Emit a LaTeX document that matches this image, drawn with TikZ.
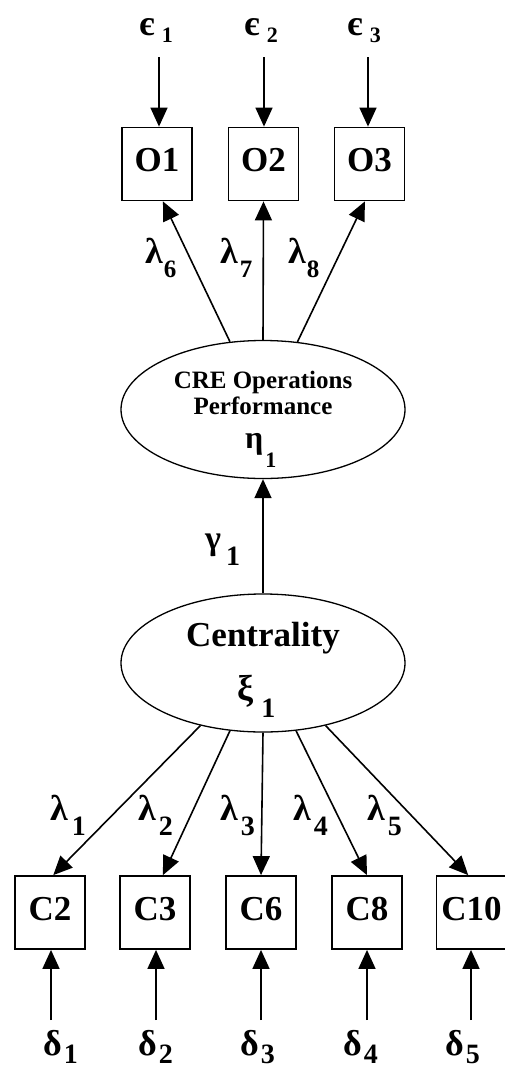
\documentclass[tikz,border=0pt]{standalone}
\usepackage{fontspec}
\setmainfont{Liberation Serif}
\usetikzlibrary{arrows.meta,shapes.geometric}

% Greek symbol with a lowered index: size, letter, gap, drop, index size, index
\newcommand\glab[6]{{\fontsize{#1}{#1}\selectfont #2}\hspace{#3}\raisebox{-#4}{\fontsize{#5}{#5}\selectfont #6}}

\begin{document}
\begin{tikzpicture}[x=1pt,y=-1pt,
  obsbox/.style={draw, line width=1.8pt, minimum width=70pt, minimum height=73pt,
    inner sep=0pt, text height=25pt, text depth=10pt,
    font=\fontsize{35}{35}\selectfont\bfseries},
  latent/.style={draw, ellipse, line width=1.3pt, minimum width=284pt,
    minimum height=138pt, inner sep=0pt},
  path/.style={line width=1.6pt, -{Triangle[length=19pt,width=17pt]}},
  sym/.style={inner sep=0pt, anchor=base west, font=\bfseries},
  ovaltext/.style={inner sep=0pt, anchor=base, font=\fontsize{25}{25}\selectfont\bfseries}]
\useasboundingbox (0,0) rectangle (505,1068);

% measurement errors of the outcome indicators
\node[sym] (e1) at (139,35) {\glab{36pt}{є}{7pt}{7pt}{22pt}{1}};
\node[sym] (e2) at (244,35) {\glab{36pt}{є}{7pt}{7pt}{22pt}{2}};
\node[sym] (e3) at (347,35) {\glab{36pt}{є}{7pt}{7pt}{22pt}{3}};
\coordinate (e1s) at (159,57);
\coordinate (e2s) at (264,57);
\coordinate (e3s) at (368,57);

% outcome indicators
\node[obsbox] (O1) at (157,164) {O1};
\node[obsbox] (O2) at (263.5,164) {O2};
\node[obsbox] (O3) at (369.5,164) {O3};

\draw[path] (e1s) -- (e1s |- O1.north);
\draw[path] (e2s) -- (e2s |- O2.north);
\draw[path] (e3s) -- (e3s |- O3.north);

% endogenous construct
\node[latent] (eta) at (263,409.5) {};
\node[ovaltext] (eta1) at (263,388) {CRE Operations};
\node[ovaltext] (eta2) at (263,414) {Performance};
\node[sym] (etasym) at (245,448) {\glab{32pt}{η}{2pt}{19pt}{22pt}{1}};

\draw[path] (eta.116.7) -- (O1.-81);
\draw[path] (eta.north) -- (O2.south);
\draw[path] (eta.63.3) -- (O3.-97);

\node[sym] (l6) at (145,263) {\glab{36pt}{λ}{1pt}{14pt}{25pt}{6}};
\node[sym] (l7) at (220,263) {\glab{36pt}{λ}{2pt}{14pt}{25pt}{7}};
\node[sym] (l8) at (288,263) {\glab{36pt}{λ}{1pt}{14pt}{25pt}{8}};

% exogenous construct
\node[latent] (xi) at (263,663) {};
\node[ovaltext, font=\fontsize{35}{35}\selectfont\bfseries] (xitext) at (263,646) {Centrality};
\node[sym] (xisym) at (237,700) {\glab{36pt}{ξ}{8pt}{17pt}{28pt}{1}};

\draw[path] (xi.north) -- (eta.south);
\node[sym] (g1) at (205,549) {\glab{34pt}{γ}{5pt}{16pt}{28pt}{1}};

% centrality indicators
\node[obsbox] (C2) at (50,912.5) {C2};
\node[obsbox] (C3) at (155,912.5) {C3};
\node[obsbox] (C6) at (261,912.5) {C6};
\node[obsbox] (C8) at (367,912.5) {C8};
\node[obsbox] (C10) at (471.5,912.5) {C10};

\draw[path] (xi.-135.4) -- (C2.85);
\draw[path] (xi.-116.6) -- (C3.78);
\draw[path] (xi.south) -- (C6.north);
\draw[path] (xi.-64.8) -- (C8.north);
\draw[path] (xi.-45.9) -- (C10.95);

\node[sym] (l1) at (50,820) {\glab{36pt}{λ}{4pt}{15pt}{28pt}{1}};
\node[sym] (l2) at (138,820) {\glab{36pt}{λ}{3pt}{15pt}{28pt}{2}};
\node[sym] (l3) at (220,820) {\glab{36pt}{λ}{3pt}{15pt}{28pt}{3}};
\node[sym] (l4) at (293,820) {\glab{36pt}{λ}{3pt}{15pt}{28pt}{4}};
\node[sym] (l5) at (367,820) {\glab{36pt}{λ}{3pt}{15pt}{28pt}{5}};

% measurement errors of the centrality indicators
\coordinate (d1s) at (51,1020);
\coordinate (d2s) at (156,1020);
\coordinate (d3s) at (261,1020);
\coordinate (d4s) at (367,1020);
\coordinate (d5s) at (471,1020);
\draw[path] (d1s) -- (d1s |- C2.south);
\draw[path] (d2s) -- (d2s |- C3.south);
\draw[path] (d3s) -- (d3s |- C6.south);
\draw[path] (d4s) -- (d4s |- C8.south);
\draw[path] (d5s) -- (d5s |- C10.south);

\node[sym] (d1) at (43,1055) {\glab{36pt}{δ}{2pt}{8pt}{28pt}{1}};
\node[sym] (d2) at (138,1055) {\glab{36pt}{δ}{2pt}{8pt}{28pt}{2}};
\node[sym] (d3) at (240,1055) {\glab{36pt}{δ}{2pt}{8pt}{28pt}{3}};
\node[sym] (d4) at (343,1055) {\glab{36pt}{δ}{2pt}{8pt}{28pt}{4}};
\node[sym] (d5) at (445,1055) {\glab{36pt}{δ}{2pt}{8pt}{28pt}{5}};
\end{tikzpicture}
\end{document}
